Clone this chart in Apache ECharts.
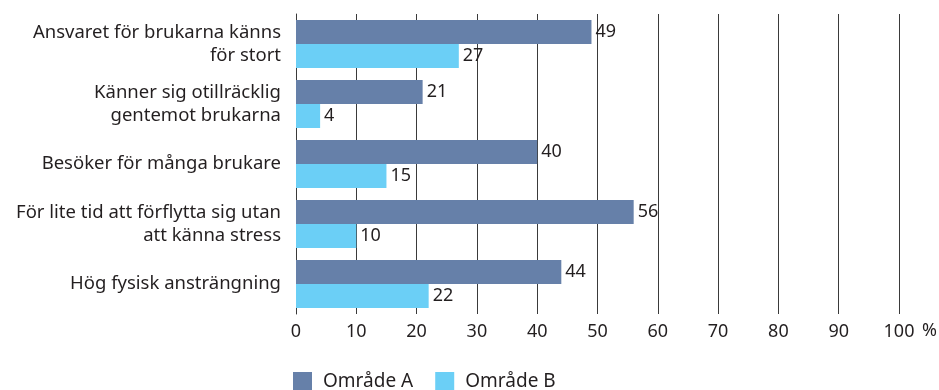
<!DOCTYPE html>
<html>
<head>
<meta charset="utf-8">
<script src="https://cdn.jsdelivr.net/npm/echarts@6/dist/echarts.min.js"></script>
<style>
html,body{margin:0;padding:0;background:#fff;}
#chart{width:939px;height:390px;}
</style>
</head>
<body>
<div id="chart"></div>
<script>
// Categories listed top to bottom
const categories = [
  'Ansvaret för brukarna känns\nför stort',
  'Känner sig otillräcklig\ngentemot brukarna',
  'Besöker för många brukare',
  'För lite tid att förflytta sig utan\natt känna stress',
  'Hög fysisk ansträngning'
];
const seriesNames = ['Område A', 'Område B'];
const valuesA = [49, 21, 40, 56, 44];
const valuesB = [27, 4, 15, 10, 22];
const xTicks = [0, 10, 20, 30, 40, 50, 60, 70, 80, 90, 100];

const FONT = '"Noto Sans", sans-serif';
const FS = 18;
const TEXT = '#231f20';
const colorA = '#6680a9';
const colorB = '#6bcff6';

const chart = echarts.init(document.getElementById('chart'), null, {renderer: 'canvas'});

const labelStyle = {
  show: true,
  position: 'right',
  distance: 4,
  color: TEXT,
  fontFamily: FONT,
  fontSize: FS
};

chart.setOption({
  animation: false,
  textStyle: {fontFamily: FONT},
  grid: {left: 296, right: 40, top: 14, height: 300, containLabel: false},
  xAxis: {
    type: 'value',
    min: xTicks[0],
    max: xTicks[xTicks.length - 1],
    interval: 10,
    axisLine: {show: false},
    axisTick: {show: true, length: 0},
    axisLabel: {color: TEXT, fontFamily: FONT, fontSize: FS, margin: 9},
    splitLine: {show: true, lineStyle: {color: '#3a3a3a', width: 1}}
  },
  yAxis: {
    type: 'category',
    data: categories,
    inverse: true,
    axisLine: {show: true, lineStyle: {color: '#3a3a3a', width: 1}},
    axisTick: {show: false},
    axisLabel: {
      color: TEXT, fontFamily: FONT, fontSize: 18.5, margin: 15,
      align: 'right', lineHeight: 23
    }
  },
  legend: {
    left: 293,
    top: 372,
    padding: 0,
    itemWidth: 19,
    itemHeight: 19,
    itemGap: 22,
    icon: 'rect',
    textStyle: {color: TEXT, fontFamily: FONT, fontSize: 19, padding: [0, 0, 0, 6]},
    data: seriesNames
  },
  graphic: [{
    type: 'text',
    left: 922,
    top: 322,
    style: {text: '%', fill: TEXT, font: FS + 'px ' + FONT}
  }],
  series: [
    {
      name: seriesNames[0],
      type: 'bar',
      data: valuesA,
      barWidth: 24,
      barGap: '0%',
      itemStyle: {color: colorA},
      label: labelStyle
    },
    {
      name: seriesNames[1],
      type: 'bar',
      data: valuesB,
      barWidth: 24,
      barGap: '0%',
      itemStyle: {color: colorB},
      label: labelStyle
    }
  ]
});
</script>
</body>
</html>
